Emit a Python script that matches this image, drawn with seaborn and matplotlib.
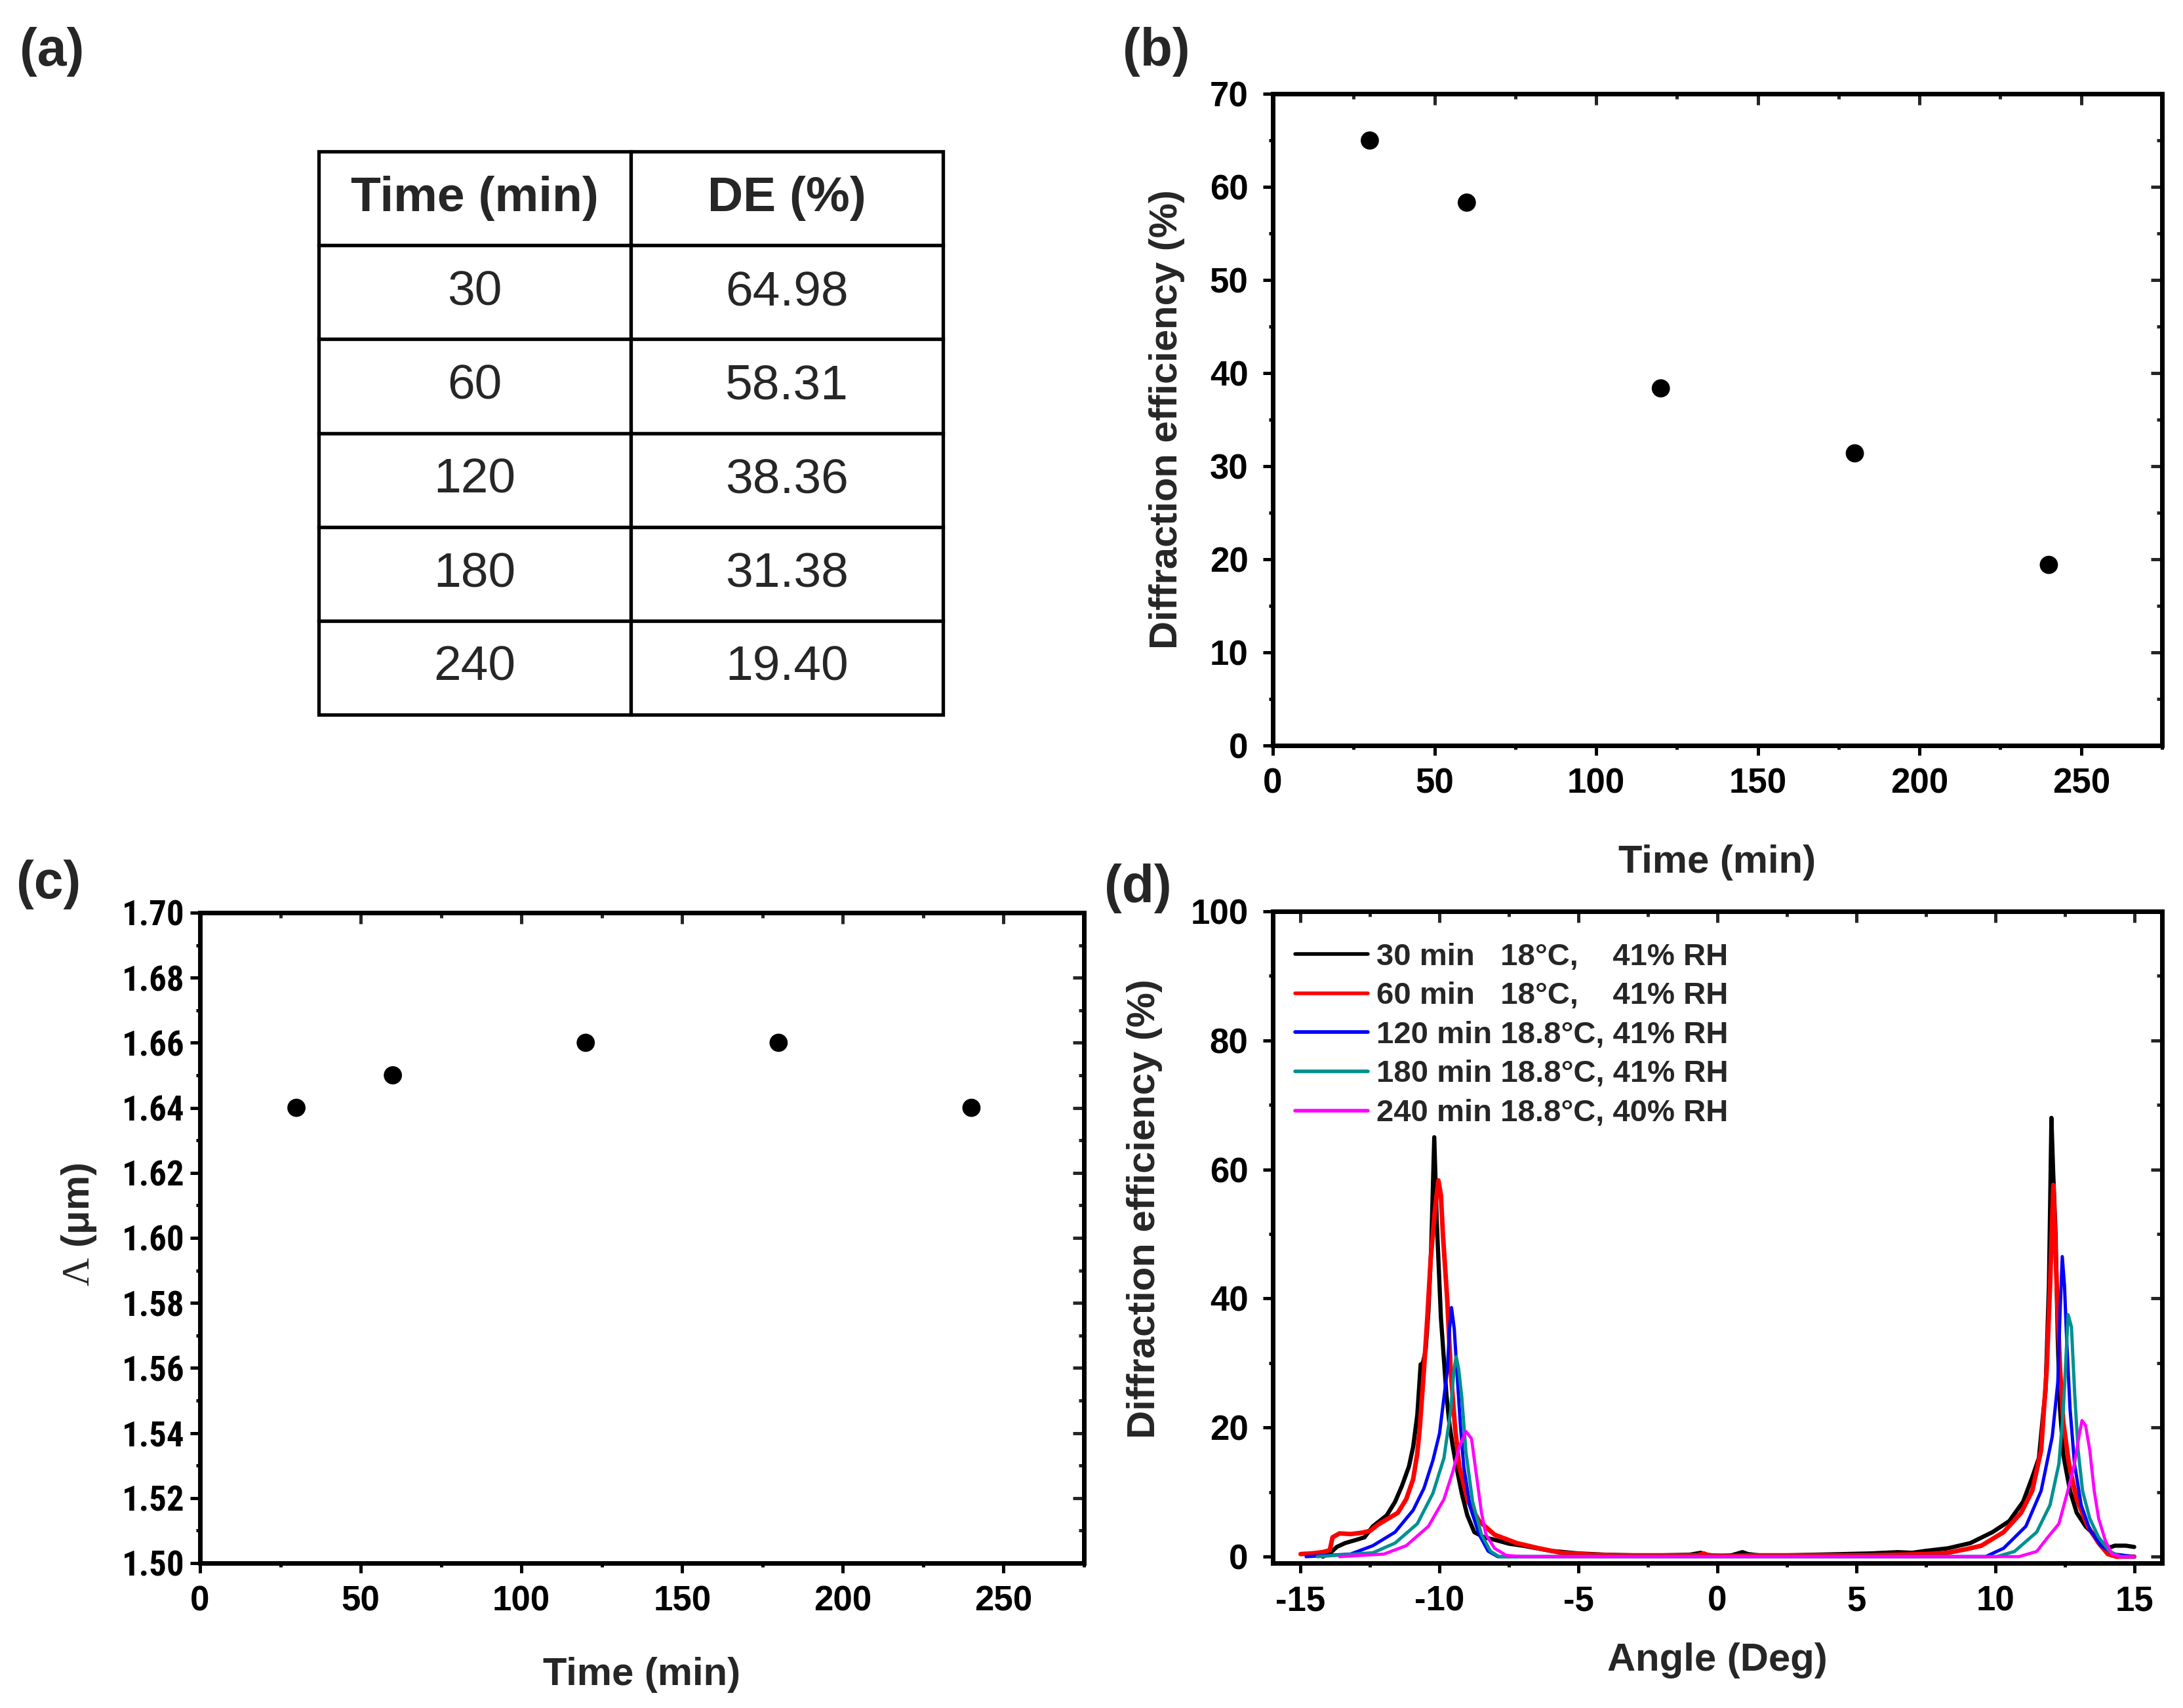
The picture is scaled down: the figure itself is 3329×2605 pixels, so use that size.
import matplotlib
matplotlib.use("Agg")
import matplotlib.pyplot as plt
import seaborn as sns
import pandas as pd
from matplotlib.ticker import MultipleLocator, FormatStrFormatter
from matplotlib import font_manager

# ---------------- data ----------------
time_min = [30, 60, 120, 180, 240]
de_pct = [64.98, 58.31, 38.36, 31.38, 19.40]
period_um = [1.64, 1.65, 1.66, 1.66, 1.64]

table_header = ["Time (min)", "DE (%)"]

legend_labels = [
    "30 min   18°C,    41% RH",
    "60 min   18°C,    41% RH",
    "120 min 18.8°C, 41% RH",
    "180 min 18.8°C, 41% RH",
    "240 min 18.8°C, 40% RH",
]
curve_colors = ["#000000", "#ff0000", "#0000ff", "#009090", "#ff00ff"]

x30 = [-14.2, -13.95, -13.7, -13.4, -13.0, -12.7, -12.4, -11.9, -11.6, -11.35, -11.1, -10.95,
       -10.8, -10.68, -10.6, -10.5, -10.4, -10.3, -10.19, -10.1, -10.02, -9.95, -9.85, -9.75,
       -9.64, -9.52, -9.35, -9.2, -9.0, -8.75, -8.4, -8.0, -7.5, -7.0, -6.0, -5.0, -4.0, -3.0,
       -2.0, -1.0, -0.6, -0.4, 0.0, 0.5, 0.9, 1.1, 1.5, 2.5, 3.5, 4.5, 5.5, 6.5, 7.0, 7.5, 8.3,
       9.1, 9.9, 10.5, 11.0, 11.33, 11.57, 11.73, 11.81, 11.93, 12.02, 12.08, 12.17, 12.25,
       12.33, 12.45, 12.69, 12.93, 13.25, 13.65, 14.05, 14.3, 14.7, 15.0]
y30 = [0.0, 0.5, 1.5, 2.1, 2.6, 3.0, 4.7, 6.4, 8.5, 11.0, 14.0, 17.0,
       22.0, 29.8, 30.0, 32.0, 38.0, 48.0, 65.0, 52.0, 44.0, 37.0, 31.0, 25.0,
       20.4, 17.0, 13.0, 9.8, 6.4, 3.8, 3.0, 2.6, 2.0, 1.7, 0.9, 0.5, 0.3, 0.2,
       0.2, 0.3, 0.6, 0.3, 0.1, 0.2, 0.7, 0.4, 0.2, 0.2, 0.3, 0.4, 0.5, 0.7, 0.6, 0.9, 1.3,
       2.1, 3.8, 5.5, 8.5, 12.3, 15.3, 22.5, 25.8, 42.0, 68.0, 60.0, 50.0, 33.5,
       22.9, 15.7, 10.2, 6.8, 4.7, 3.0, 1.3, 1.7, 1.7, 1.5]

x60 = [-15.0, -14.6, -14.2, -13.95, -13.85, -13.6, -13.2, -12.8, -12.5, -12.2, -11.5, -11.2,
       -10.95, -10.8, -10.71, -10.56, -10.44, -10.32, -10.16, -10.04, -9.95, -9.88, -9.72,
       -9.6, -9.45, -9.29, -8.97, -8.57, -8.02, -7.22, -6.43, -5.63, -4.5, -3.5, -2.5, -1.5,
       -0.7, -0.5, -0.3, 0.5, 1.5, 2.5, 3.5, 4.5, 5.5, 6.5, 7.5, 8.3, 9.0, 9.5, 10.3, 10.93,
       11.33, 11.65, 11.85, 11.97, 12.09, 12.21, 12.33, 12.45, 12.65, 12.93, 13.33, 13.72,
       14.05, 14.36, 15.0]
y60 = [0.4, 0.5, 0.7, 1.0, 3.0, 3.6, 3.5, 3.7, 4.0, 5.0, 6.8, 8.9,
       12.0, 16.0, 20.0, 29.0, 37.0, 46.0, 54.0, 58.3, 56.0, 50.0, 39.6,
       29.0, 20.4, 14.0, 8.5, 5.5, 3.4, 2.1, 1.3, 0.6, 0.3, 0.2, 0.2, 0.2,
       0.2, 0.5, 0.2, 0.1, 0.2, 0.2, 0.2, 0.2, 0.2, 0.3, 0.4, 0.6, 1.2, 1.7, 3.8, 6.8,
       10.2, 16.5, 29.0, 42.0, 57.6, 42.0, 29.0, 20.8, 14.4, 8.9, 4.7, 2.1,
       0.4, 0.0, 0.0]

x120 = [-14.8, -13.2, -12.4, -11.6, -10.95, -10.56, -10.24, -10.0, -9.84, -9.72, -9.64,
        -9.57, -9.47, -9.38, -9.25, -9.13, -8.9, -8.57, -8.25, -7.9, -7.0, 0.0, 9.65, 10.3,
        11.1, 11.65, 12.05, 12.25, 12.33, 12.41, 12.49, 12.57, 12.69, 12.85, 13.09, 13.4,
        13.8, 14.28, 15.0]
y120 = [0.0, 0.4, 1.7, 3.8, 7.2, 10.6, 14.9, 19.1, 24.7, 28.9, 35.3,
        38.6, 35.3, 29.0, 20.4, 14.0, 7.7, 3.4, 0.85, 0.0, 0.0, 0.0, 0.0, 1.3,
        4.7, 10.2, 18.6, 27.0, 37.7, 46.5, 42.0, 33.5, 22.9, 14.4, 8.0, 4.2,
        1.7, 0.4, 0.0]

x180 = [-14.4, -12.4, -11.6, -10.8, -10.24, -9.84, -9.6, -9.48, -9.4, -9.31, -9.2, -9.05,
        -8.81, -8.49, -8.17, -7.86, -7.0, 0.0, 10.05, 10.69, 11.49, 11.97, 12.29, 12.45,
        12.55, 12.62, 12.74, 12.86, 12.98, 13.14, 13.4, 13.72, 14.12, 14.52, 15.0]
y180 = [0.0, 0.6, 2.1, 5.1, 9.8, 15.3, 22.6, 29.0, 31.0, 29.0, 24.7, 16.2,
        8.5, 3.4, 0.85, 0.0, 0.0, 0.0, 0.0, 0.8, 3.8, 8.0, 14.4, 22.9,
        31.4, 37.5, 35.6, 25.0, 16.5, 10.2, 5.9, 3.0, 0.8, 0.0, 0.0]

x240 = [-13.6, -12.0, -11.2, -10.4, -9.84, -9.52, -9.29, -9.05, -8.85, -8.65, -8.49, -8.33,
        -8.02, -7.6, -7.0, 0.0, 10.85, 11.49, 11.89, 12.29, 12.61, 12.85, 13.01, 13.12,
        13.25, 13.4, 13.56, 13.72, 13.96, 14.2, 14.52, 15.0]
y240 = [0.0, 0.4, 1.7, 4.7, 8.9, 13.2, 17.0, 19.4, 18.3, 11.9, 6.8, 3.4,
        1.3, 0.2, 0.0, 0.0, 0.0, 0.8, 3.0, 5.1, 10.2, 14.4, 18.6, 21.1,
        20.3, 16.5, 10.2, 5.9, 2.5, 0.4, 0.0, 0.0]

curves_x = [x30, x60, x120, x180, x240]
curves_y = [y30, y60, y120, y180, y240]

# ---------------- style ----------------
sns.set_theme(style="ticks")
plt.rcParams["font.family"] = ["Liberation Sans", "DejaVu Sans"]
plt.rcParams["font.weight"] = "bold"
plt.rcParams["axes.unicode_minus"] = False
plt.rcParams["mathtext.fontset"] = "custom"
plt.rcParams["mathtext.rm"] = "Liberation Serif:weight=normal"

installed = {f.name for f in font_manager.fontManager.ttflist}
NARROW = None
for cand in ["Liberation Sans Narrow", "DejaVu Sans Condensed", "Roboto Condensed",
             "Open Sans Condensed"]:
    if cand in installed:
        NARROW = cand
        break

W, H = 3330, 2605
fig = plt.figure(figsize=(W / 100, H / 100), dpi=100)
fig.patch.set_facecolor("white")

TICK_FS = 38
LABEL_FS = 43
PANEL_FS = 58
LEG_FS = 34
TABLE_FS = 54
SPINE_LW = 5
TICK_W = 3.6


def px_axes(left, top, right, bottom):
    return fig.add_axes([left / W, 1 - bottom / H, (right - left) / W, (bottom - top) / H])


def style_axes(ax, xmaj, xmin, ymaj, ymin):
    ax.set_facecolor("white")
    ax.xaxis.set_major_locator(MultipleLocator(xmaj))
    ax.xaxis.set_minor_locator(MultipleLocator(xmin))
    ax.yaxis.set_major_locator(MultipleLocator(ymaj))
    ax.yaxis.set_minor_locator(MultipleLocator(ymin))
    for s in ax.spines.values():
        s.set_visible(True)
        s.set_linewidth(SPINE_LW)
        s.set_color("black")
    ax.tick_params(which="major", direction="out", length=11, width=TICK_W,
                   labelsize=TICK_FS, colors="black", pad=13)
    ax.tick_params(which="minor", direction="out", length=4.5, width=TICK_W, colors="black")
    ax.tick_params(axis="y", which="major", pad=16)
    top = ax.secondary_xaxis("top")
    top.xaxis.set_major_locator(MultipleLocator(xmaj))
    top.xaxis.set_minor_locator(MultipleLocator(xmin))
    top.tick_params(which="major", direction="in", length=12, width=TICK_W, labeltop=False)
    top.tick_params(which="minor", direction="in", length=6, width=TICK_W)
    top.spines["top"].set_linewidth(SPINE_LW)
    right = ax.secondary_yaxis("right")
    right.yaxis.set_major_locator(MultipleLocator(ymaj))
    right.yaxis.set_minor_locator(MultipleLocator(ymin))
    right.tick_params(which="major", direction="in", length=12, width=TICK_W, labelright=False)
    right.tick_params(which="minor", direction="in", length=6, width=TICK_W)
    right.spines["right"].set_linewidth(SPINE_LW)


# ---------------- (a) table ----------------
ax_a = px_axes(486, 231, 1438, 1090)
ax_a.axis("off")
cell_text = [[str(t), f"{d:.2f}"] for t, d in zip(time_min, de_pct)]
tbl = ax_a.table(cellText=cell_text, colLabels=table_header, cellLoc="center",
                 bbox=[0, 0, 1, 1])
tbl.auto_set_font_size(False)
tbl.set_fontsize(TABLE_FS)
for (r, c), cell in tbl.get_celld().items():
    cell.set_linewidth(3.8)
    cell.set_edgecolor("black")
    cell.get_text().set_fontweight("bold" if r == 0 else "normal")
    cell.get_text().set_fontsize(TABLE_FS)

# ---------------- (b) ----------------
ax_b = px_axes(1941, 143, 3297, 1137)
df_b = pd.DataFrame({"Time (min)": time_min, "DE": de_pct})
sns.scatterplot(data=df_b, x="Time (min)", y="DE", ax=ax_b, s=400, color="black",
                edgecolor="none", legend=False)
ax_b.set_xlim(0, 275)
ax_b.set_ylim(0, 70)
style_axes(ax_b, 50, 25, 10, 5)
ax_b.set_xlabel("Time (min)", fontsize=LABEL_FS, fontweight="bold")
ax_b.set_ylabel("Diffraction efficiency (%)", fontsize=LABEL_FS, fontweight="bold")
ax_b.xaxis.label.set_va("center")
ax_b.yaxis.label.set_va("center")
ax_b.xaxis.set_label_coords(0.5, -0.18)
ax_b.yaxis.set_label_coords(-0.119, 0.5)

# ---------------- (c) ----------------
ax_c = px_axes(305, 1392, 1653, 2384)
df_c = pd.DataFrame({"Time (min)": time_min, "Period": period_um})
sns.scatterplot(data=df_c, x="Time (min)", y="Period", ax=ax_c, s=400, color="black",
                edgecolor="none", legend=False)
ax_c.set_xlim(0, 275)
ax_c.set_ylim(1.50, 1.70)
style_axes(ax_c, 50, 25, 0.02, 0.01)
ax_c.yaxis.set_major_formatter(FormatStrFormatter("%.2f"))
if NARROW is not None:
    for lbl in ax_c.get_yticklabels():
        lbl.set_fontfamily([NARROW, "DejaVu Sans"])
ax_c.tick_params(axis="y", which="major", pad=6)
ax_c.set_xlabel("Time (min)", fontsize=LABEL_FS, fontweight="bold")
ax_c.set_ylabel(r"$\mathrm{\Lambda}$ (μm)", fontsize=LABEL_FS, fontweight="bold")
ax_c.xaxis.label.set_va("center")
ax_c.yaxis.label.set_va("center")
ax_c.xaxis.set_label_coords(0.5, -0.172)
ax_c.yaxis.set_label_coords(-0.1365, 0.52)

# ---------------- (d) ----------------
ax_d = px_axes(1941, 1390, 3297, 2384)
for xs, ys, col, lab, lw in zip(curves_x, curves_y, curve_colors, legend_labels,
                                [4.6, 5.0, 3.6, 3.6, 3.4]):
    df = pd.DataFrame({"Angle": xs, "DE": ys})
    sns.lineplot(data=df, x="Angle", y="DE", ax=ax_d, color=col, lw=lw, label=lab,
                 estimator=None, sort=False)
ax_d.set_xlim(-16, 16)
ax_d.set_ylim(-1, 100)
style_axes(ax_d, 5, 2.5, 20, 10)
ax_d.set_xlabel("Angle (Deg)", fontsize=LABEL_FS, fontweight="bold")
ax_d.set_ylabel("Diffraction efficiency (%)", fontsize=LABEL_FS, fontweight="bold")
ax_d.xaxis.label.set_va("center")
ax_d.yaxis.label.set_va("center")
ax_d.xaxis.set_label_coords(0.5, -0.149)
ax_d.yaxis.set_label_coords(-0.144, 0.544)
leg = ax_d.legend(loc="upper left", bbox_to_anchor=(0.025, 0.952), frameon=False,
                  prop={"size": LEG_FS, "weight": "bold"}, handlelength=2.35,
                  handletextpad=0.28, labelspacing=0.33, borderpad=0, borderaxespad=0)
for h in leg.get_lines():
    h.set_linewidth(4)

# ---------------- panel labels ----------------
for lab, (px, py) in {"(a)": (79, 79), "(b)": (1763, 79), "(c)": (74, 1349),
                      "(d)": (1735, 1355)}.items():
    fig.text(px / W, 1 - py / H, lab, ha="center", va="center", fontsize=PANEL_FS,
             fontweight="bold")

fig.savefig("out.png", dpi=100, facecolor="white")
